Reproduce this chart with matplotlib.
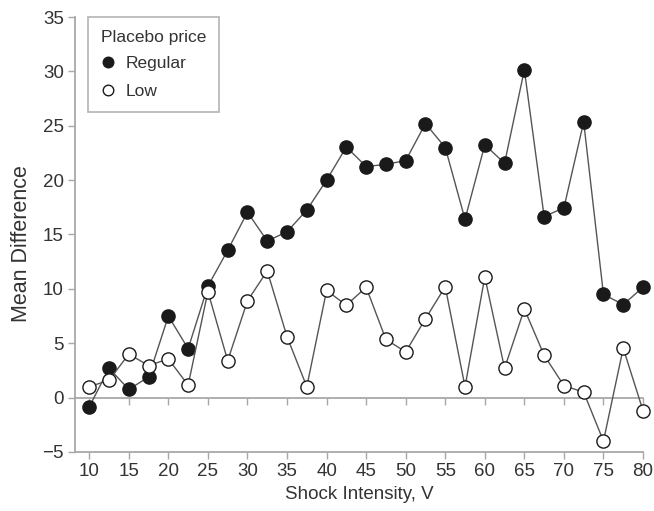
import matplotlib
matplotlib.use("Agg")
import matplotlib.pyplot as plt
from matplotlib.lines import Line2D

plt.rcParams['font.family'] = ['Liberation Sans', 'DejaVu Sans']

shock = [10, 12.5, 15, 17.5, 20, 22.5, 25, 27.5, 30, 32.5, 35, 37.5, 40, 42.5,
         45, 47.5, 50, 52.5, 55, 57.5, 60, 62.5, 65, 67.5, 70, 72.5, 75, 77.5, 80]
regular = [-0.85, 2.7, 0.75, 1.9, 7.5, 4.5, 10.25, 13.55, 17.05, 14.4, 15.25, 17.25, 20.0, 23.05,
           21.25, 21.45, 21.8, 25.2, 23.0, 16.4, 23.25, 21.55, 30.15, 16.65, 17.45, 25.35, 9.5, 8.55, 10.15]
low = [1.0, 1.6, 4.0, 2.95, 3.55, 1.15, 9.75, 3.4, 8.9, 11.65, 5.6, 1.0, 9.85, 8.5,
       10.15, 5.35, 4.2, 7.25, 10.2, 1.0, 11.1, 2.7, 8.15, 3.9, 1.1, 0.5, -4.0, 4.55, -1.2]
xticks = [10, 15, 20, 25, 30, 35, 40, 45, 50, 55, 60, 65, 70, 75, 80]
yticks = [-5, 0, 5, 10, 15, 20, 25, 30, 35]

axis_col = '#a8a8a8'
text_col = '#333333'
line_col = '#555555'

fig = plt.figure(figsize=(6.54, 5.11), dpi=100)
ax = fig.add_axes([0.1147, 0.1155, 0.9832 - 0.1147, 0.9667 - 0.1155])

ax.plot(shock, regular, color=line_col, lw=1.0, marker='o', ms=9.5,
        mfc='#1a1a1a', mec='#1a1a1a', mew=1.0, clip_on=False, zorder=3)
ax.plot(shock, low, color=line_col, lw=1.0, marker='o', ms=9.5,
        mfc='white', mec='#1a1a1a', mew=1.0, clip_on=False, zorder=4)

ax.set_xlim(8.2, 80)
ax.set_ylim(-5, 35)
ax.set_xticks(xticks)
ax.set_yticks(yticks)
ax.set_yticklabels([str(v).replace('-', '\u2212') for v in yticks])

for s in ['top', 'right']:
    ax.spines[s].set_visible(False)
for s in ['left', 'bottom']:
    ax.spines[s].set_color(axis_col)
    ax.spines[s].set_linewidth(1.3)
ax.tick_params(axis='both', direction='out', length=5, width=1.0, color=axis_col,
               labelcolor=text_col, labelsize=13.5, pad=3)

sec = ax.secondary_xaxis(0, transform=ax.transData)
sec.set_xticks(xticks)
sec.set_xticklabels([])
sec.tick_params(direction='out', length=5, width=1.0, color=axis_col)
sec.spines['bottom'].set_color(axis_col)
sec.spines['bottom'].set_linewidth(1.3)

ax.set_xlabel('Shock Intensity, V', fontsize=13.5, color=text_col, labelpad=4)
ax.set_ylabel('Mean Difference', fontsize=15.5, color=text_col)
ax.yaxis.set_label_coords(-0.076, 0.48)

handles = [Line2D([], [], ls='none', marker='o', ms=9.5, mfc='#1a1a1a', mec='#1a1a1a'),
           Line2D([], [], ls='none', marker='o', ms=9.5, mfc='white', mec='#1a1a1a')]
leg = ax.legend(handles, ['Regular', 'Low'], title='Placebo price', loc='upper left',
                bbox_to_anchor=(0.0229, 1.0), borderaxespad=0, fontsize=12.5,
                title_fontsize=12.5, frameon=True, fancybox=False, edgecolor=axis_col,
                markerscale=0.8, handlelength=0.8, handletextpad=0.6, borderpad=0.75,
                labelspacing=0.7, alignment='left')
leg.get_frame().set_linewidth(1.3)
leg._legend_box.sep = 8
for t in leg.get_texts():
    t.set_color(text_col)
leg.get_title().set_color(text_col)

fig.savefig('out.png', dpi=100)
